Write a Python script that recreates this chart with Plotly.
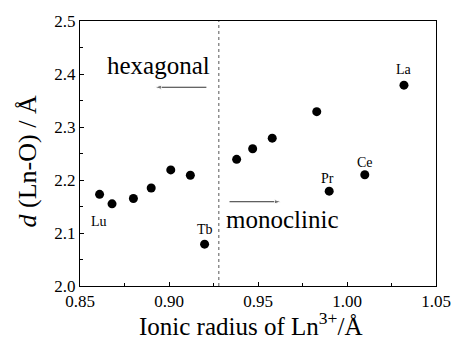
import plotly.graph_objects as go

# Ln-O bond distance vs. ionic radius of Ln3+
radius = [0.861, 0.868, 0.880, 0.890, 0.901, 0.912, 0.920, 0.938, 0.947, 0.958, 0.983, 0.990, 1.010, 1.032]
d_ln_o = [2.173, 2.155, 2.165, 2.185, 2.219, 2.209, 2.079, 2.239, 2.259, 2.279, 2.329, 2.179, 2.210, 2.379]

# labelled lanthanides: (name, radius, distance, label dx, label dy)
labels = [
    ("Lu", 0.861, 2.173, -1, -27),
    ("Tb", 0.920, 2.079, 0, 15),
    ("Pr", 0.990, 2.179, -2, 13),
    ("Ce", 1.010, 2.210, 0, 12),
    ("La", 1.032, 2.379, 0, 16),
]
phase_boundary = 0.928

# phase arrows: (start x, end x, y)
hex_arrow = (0.921, 0.892, 2.375)
mono_arrow = (0.934, 0.963, 2.159)

FONT = "Liberation Serif, Times New Roman, serif"

fig = go.Figure()
fig.add_trace(go.Scatter(
    x=radius, y=d_ln_o, mode="markers",
    marker=dict(color="black", size=9),
    hoverinfo="skip", showlegend=False,
))

for x0, x1, y in (hex_arrow, mono_arrow):
    fig.add_trace(go.Scatter(
        x=[x0, x1], y=[y, y], mode="lines+markers",
        line=dict(color="#333", width=1),
        marker=dict(symbol="arrow", angleref="previous", size=[0, 7], color="#333"),
        hoverinfo="skip", showlegend=False,
    ))

fig.add_shape(type="line", x0=phase_boundary, x1=phase_boundary, y0=2.0, y1=2.5,
              xref="x", yref="y", line=dict(color="#555", width=1, dash="dot"))

for name, x, y, dx, dy in labels:
    fig.add_annotation(x=x, y=y, text=name, showarrow=False, xshift=dx, yshift=dy,
                       font=dict(family=FONT, size=14, color="black"))

# phase region labels
fig.add_annotation(x=0.894, y=2.416, text="hexagonal", showarrow=False,
                   font=dict(family=FONT, size=25, color="black"))
fig.add_annotation(x=0.9635, y=2.126, text="monoclinic", showarrow=False,
                   font=dict(family=FONT, size=25, color="black"))

axis_common = dict(
    showline=True, linecolor="black", linewidth=1, mirror=True,
    ticks="inside", ticklen=4, tickcolor="black", showgrid=False, zeroline=False,
    tickfont=dict(family=FONT, size=17, color="black"),
)

fig.update_xaxes(
    range=[0.85, 1.05], dtick=0.05, tickformat=".2f",
    minor=dict(dtick=0.025, ticks="inside", ticklen=3, tickcolor="black"),
    **axis_common,
)
fig.update_yaxes(
    range=[2.0, 2.5], dtick=0.1, tickformat=".1f",
    minor=dict(dtick=0.05, ticks="inside", ticklen=3, tickcolor="black"),
    **axis_common,
)

# axis titles placed relative to the plotting area
fig.add_annotation(xref="paper", yref="paper", x=0.48, y=0, yshift=-38,
                   yanchor="middle", showarrow=False,
                   text="Ionic radius of Ln<sup>3+</sup>/Å",
                   font=dict(family=FONT, size=25, color="black"))
fig.add_annotation(xref="paper", yref="paper", x=0, xshift=-53, y=0.47,
                   xanchor="center", textangle=-90, showarrow=False,
                   text="<i>d</i> (Ln-O) / Å",
                   font=dict(family=FONT, size=26, color="black"))

fig.update_layout(
    width=463, height=341,
    margin=dict(l=80, r=18, t=20, b=55),
    paper_bgcolor="white", plot_bgcolor="white",
)

fig.write_html("out.html")
